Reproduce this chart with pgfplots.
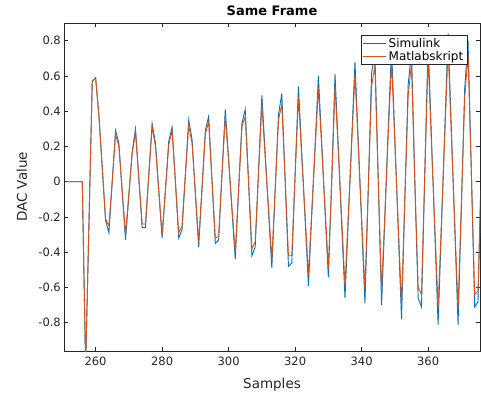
\documentclass[border=0pt]{standalone}
\usepackage{fontspec}
\setmainfont{DejaVu Sans}
\usepackage{pgfplots}
\pgfplotsset{compat=1.18}
\usepackage{pgfplotstable}
\definecolor{mblue}{HTML}{0072BD}
\definecolor{morange}{HTML}{D95319}
\definecolor{axgray}{HTML}{262626}

\pgfplotstableread{
s sim mat
251 0 0
252 0 0
253 0 0
254 0 0
255 0 0
256 0 0
257 -1.05 -1.05
258 -0.24 -0.24
259 0.57 0.57
260 0.59 0.59
261 0.38 0.37
262 0.08 0.08
263 -0.22 -0.21
264 -0.29 -0.25
265 0.00 0.00
266 0.29 0.27
267 0.22 0.20
268 -0.06 -0.05
269 -0.33 -0.30
270 -0.08 -0.07
271 0.17 0.16
272 0.30 0.28
273 0.02 0.02
274 -0.26 -0.24
275 -0.26 -0.24
276 0.04 0.04
277 0.33 0.31
278 0.22 0.20
279 -0.05 -0.05
280 -0.32 -0.30
281 -0.05 -0.05
282 0.23 0.21
283 0.31 0.29
284 0.00 0.00
285 -0.32 -0.29
286 -0.27 -0.25
287 0.04 0.04
288 0.35 0.32
289 0.24 0.22
290 -0.07 -0.06
291 -0.37 -0.34
292 -0.04 -0.04
293 0.29 0.27
294 0.37 0.34
295 0.01 0.01
296 -0.35 -0.32
297 -0.33 -0.31
298 0.04 0.04
299 0.41 0.37
300 0.13 0.12
301 -0.16 -0.14
302 -0.44 -0.40
303 -0.05 -0.05
304 0.33 0.31
305 0.41 0.37
306 0.00 0.00
307 -0.42 -0.38
308 -0.37 -0.34
309 0.06 0.05
310 0.49 0.44
311 0.16 0.14
312 -0.17 -0.15
313 -0.49 -0.44
314 -0.05 -0.05
315 0.38 0.35
316 0.50 0.44
317 0.01 0.01
318 -0.48 -0.42
319 -0.46 -0.42
320 0.04 0.04
321 0.54 0.48
322 0.16 0.14
323 -0.21 -0.19
324 -0.59 -0.53
325 -0.19 -0.17
326 0.20 0.18
327 0.60 0.53
328 0.22 0.20
329 -0.17 -0.15
330 -0.54 -0.49
331 0.00 0.00
332 0.61 0.54
333 0.19 0.17
334 -0.24 -0.21
335 -0.66 -0.59
336 -0.21 -0.19
337 0.23 0.21
338 0.68 0.61
339 0.22 0.20
340 -0.23 -0.21
341 -0.69 -0.61
342 -0.04 -0.04
343 0.62 0.54
344 0.72 0.66
345 0.01 0.01
346 -0.70 -0.62
347 -0.20 -0.18
348 0.30 0.27
349 0.76 0.68
350 0.24 0.22
351 -0.27 -0.24
352 -0.78 -0.70
353 -0.10 -0.09
354 0.55 0.49
355 0.74 0.67
356 0.00 0.00
357 -0.66 -0.60
358 -0.71 -0.64
359 0.05 0.05
360 0.79 0.71
361 0.25 0.22
362 -0.28 -0.25
363 -0.81 -0.71
364 -0.26 -0.23
365 0.29 0.26
366 0.84 0.76
367 0.29 0.26
368 -0.26 -0.23
369 -0.81 -0.72
370 -0.14 -0.13
371 0.53 0.48
372 0.80 0.72
373 0.05 0.05
374 -0.71 -0.64
375 -0.68 -0.62
376 0.10 0.09
}\data

\begin{document}
\begin{tikzpicture}[x=1pt,y=1pt]
\path[use as bounding box] (-64,-43) rectangle (417,351);
\begin{axis}[
  at={(0,0)}, anchor=south west,
  scale only axis, width=416pt, height=328pt,
  xmin=250.5, xmax=375.6, ymin=-0.96, ymax=0.9,
  xtick={260,280,300,320,340,360},
  ytick={-0.8,-0.6,-0.4,-0.2,0,0.2,0.4,0.6,0.8},
  yticklabels={-0.8,-0.6,-0.4,-0.2,0,0.2,0.4,0.6,0.8},
  tick align=inside, major tick length=4pt,
  axis line style={axgray, line width=0.6pt},
  every tick/.style={axgray, line width=0.6pt},
  /pgf/number format/assume math mode=true,
  ticklabel style={font=\fontsize{11.5}{12}\selectfont, text=axgray},
  xticklabel style={anchor=base, yshift=-14pt},
  yticklabel style={anchor=east, inner sep=0pt, xshift=-3pt},
  xlabel={Samples},
  ylabel={DAC Value},
  every axis x label/.style={at={(axis description cs:0.5,0)}, anchor=base, yshift=-37pt, font=\fontsize{13.5}{14}\selectfont, text=axgray},
  every axis y label/.style={at={(axis description cs:0,0.5)}, xshift=-37pt, rotate=90, anchor=base, font=\fontsize{13.5}{14}\selectfont, text=axgray},
  title={Same Frame},
  every axis title/.style={at={(axis description cs:0.5,1)}, anchor=base, yshift=7pt, font=\bfseries\fontsize{13}{13}\selectfont, text=black},
  legend style={at={(axis description cs:0.970,0.963)}, anchor=north east, draw=axgray, line width=0.6pt, fill=white, font=\fontsize{12}{13}\selectfont, inner xsep=2pt, inner ysep=1.5pt, row sep=-1pt, column sep=0pt, nodes={inner xsep=2pt, inner ysep=1.5pt}, cells={anchor=west}},
  legend image code/.code={\draw[#1, line width=0.9pt] (0pt,0pt) -- (23pt,0pt);},
]
\addplot[mblue, line width=0.9pt] table[x=s, y=sim] {\data};
\addlegendentry{Simulink}
\addplot[morange, line width=0.9pt] table[x=s, y=mat] {\data};
\addlegendentry{Matlabskript}
\end{axis}
\end{tikzpicture}
\end{document}
